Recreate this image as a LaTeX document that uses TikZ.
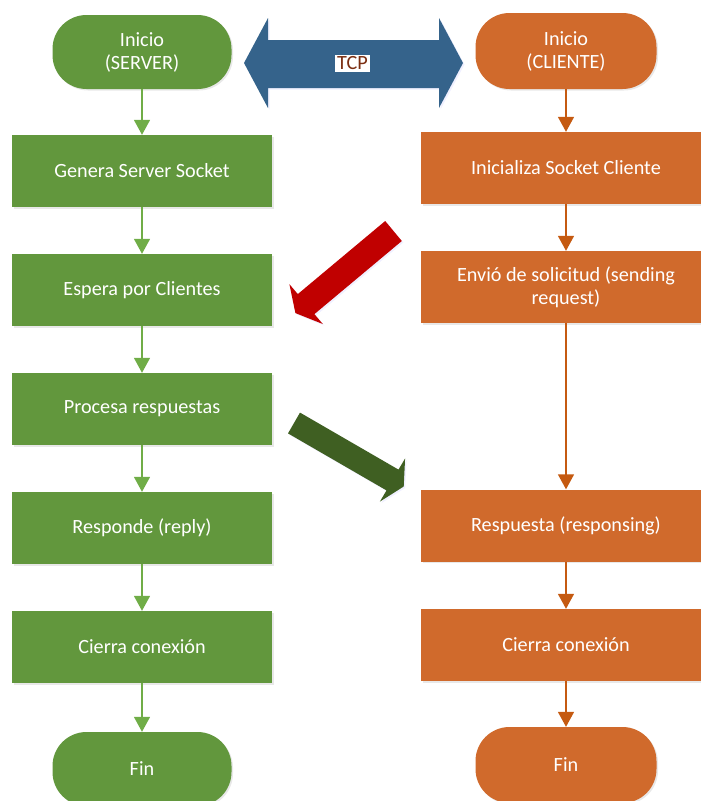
\documentclass[tikz,border=0pt]{standalone}
\usepackage{fontspec}
\setmainfont{Carlito}
\usetikzlibrary{arrows.meta,shadows}

\definecolor{srvfill}{HTML}{62973D}
\definecolor{srvline}{HTML}{70AD47}
\definecolor{clifill}{HTML}{D06A2C}
\definecolor{cliline}{HTML}{C55A11}
\definecolor{tcpblue}{HTML}{35638B}
\definecolor{reqred}{HTML}{C00000}
\definecolor{repgreen}{HTML}{3F5F22}
\definecolor{tcptext}{HTML}{7B2E12}

\begin{document}
\begin{tikzpicture}[x=1pt,y=-1pt,
  base/.style={text=white, font=\fontsize{20.2}{23}\selectfont, align=center,
    inner sep=0pt,
    drop shadow={shadow xshift=1.5pt,shadow yshift=-1.5pt,opacity=0.18}},
  srvbox/.style={base, fill=srvfill, minimum width=260pt, minimum height=72pt},
  clibox/.style={base, fill=clifill, minimum width=290pt, minimum height=72pt},
  srvterm/.style={base, fill=srvfill, rounded corners=34pt,
    minimum width=179pt, minimum height=74pt},
  cliterm/.style={base, fill=clifill, rounded corners=34pt,
    minimum width=181pt, minimum height=76pt},
  srvflow/.style={draw=srvline, line width=1.6pt,
    -{Triangle[length=15pt,width=16pt,fill=srvline]}},
  cliflow/.style={draw=cliline, line width=1.6pt,
    -{Triangle[length=15pt,width=16pt,fill=cliline]}},
  blockshadow/.style={drop shadow={shadow xshift=1.5pt,shadow yshift=-1.5pt,
    opacity=0.15, fill=blue!40}}
]
\useasboundingbox (0,0) rectangle (701,801);
\clip (0,0) rectangle (701,801);

% server column
\node[srvterm] (s0) at (142,52)  {Inicio\\(SERVER)};
\node[srvbox]  (s1) at (142,171) {Genera Server Socket};
\node[srvbox]  (s2) at (142,290) {Espera por Clientes};
\node[srvbox]  (s3) at (142,409) {Procesa respuestas};
\node[srvbox]  (s4) at (142,528) {Responde (reply)};
\node[srvbox]  (s5) at (142,647) {Cierra conexión};
\node[srvterm] (s6) at (142,769) {Fin};

% client column
\node[cliterm] (c0) at (566,51)    {Inicio\\(CLIENTE)};
\node[clibox]  (c1) at (566,168)   {Inicializa Socket Cliente};
\node[clibox]  (c2) at (566,287)   {Envió de solicitud (sending\\request)};
\node[clibox]  (c3) at (566,525.5) {Respuesta (responsing)};
\node[clibox]  (c4) at (566,645)   {Cierra conexión};
\node[cliterm] (c5) at (566,765)   {Fin};

% flow connectors
\draw[srvflow] (s0.south) -- (s1.north);
\draw[srvflow] (s1.south) -- (s2.north);
\draw[srvflow] (s2.south) -- (s3.north);
\draw[srvflow] (s3.south) -- (s4.north);
\draw[srvflow] (s4.south) -- (s5.north);
\draw[srvflow] (s5.south) -- (s6.north);

\draw[cliflow] (c0.south) -- (c1.north);
\draw[cliflow] (c1.south) -- (c2.north);
\draw[cliflow] (c2.south) -- (c3.north);
\draw[cliflow] (c3.south) -- (c4.north);
\draw[cliflow] (c4.south) -- (c5.north);

% TCP double arrow
\fill[tcpblue, blockshadow] (244,63) -- (268,18) -- (268,40) -- (439,40) -- (439,18)
  -- (463,63) -- (439,108) -- (439,88) -- (268,88) -- (268,108) -- cycle;
\node[fill=white, text=tcptext, inner sep=2pt,
  font=\fontsize{20.2}{23}\selectfont] (tcp) at (352.5,63.5) {TCP};

% request arrow (client to server)
\fill[reqred, blockshadow] (385.2,221.0) -- (297.8,294.1) -- (289.4,284.2)
  -- (295.4,313.1) -- (322.8,324.0) -- (314.4,314.1) -- (401.8,241.0) -- cycle;

% reply arrow (server to client)
\fill[repgreen, blockshadow] (300.0,412.6) -- (398.5,469.6) -- (405.1,458.4)
  -- (403.7,486.5) -- (379.9,501.6) -- (386.5,490.4) -- (288.0,433.4) -- cycle;
\end{tikzpicture}
\end{document}
